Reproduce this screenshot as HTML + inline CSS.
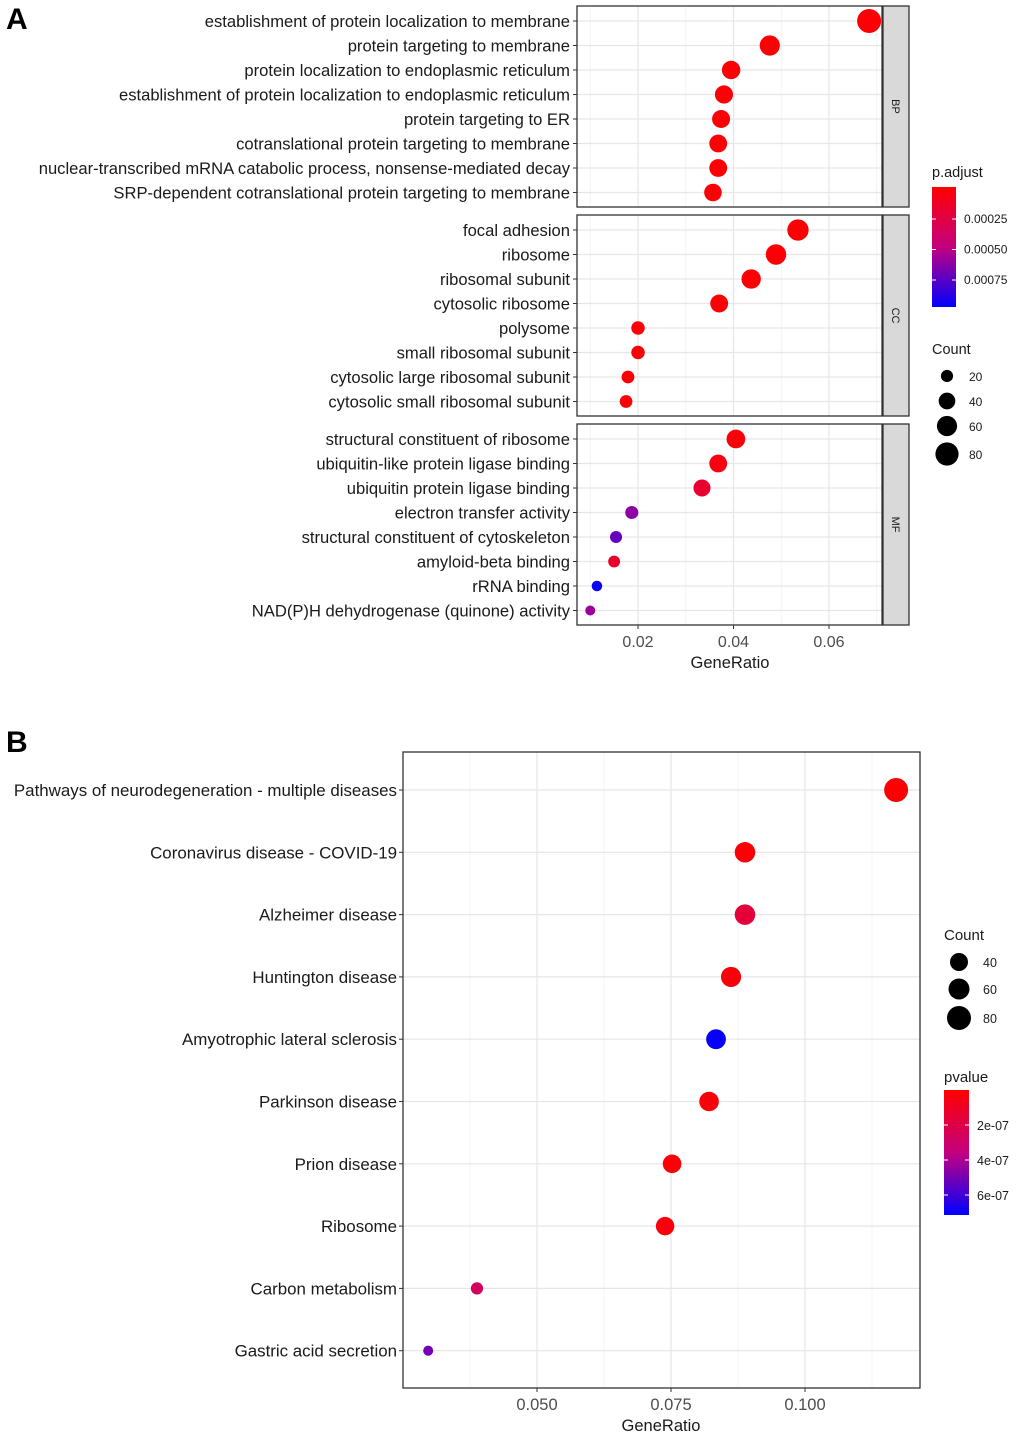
<!DOCTYPE html>
<html><head><meta charset="utf-8"><style>
body{margin:0;background:#fff;}
svg{display:block;font-family:"Liberation Sans",Arial,sans-serif;}
</style></head><body>
<svg id="fig" width="1020" height="1437" viewBox="0 0 1020 1437" xmlns="http://www.w3.org/2000/svg">
<defs>
<linearGradient id="gA" x1="0" y1="0" x2="0" y2="1"><stop offset="0" stop-color="#ff0000"/><stop offset="0.5" stop-color="#c4007f"/><stop offset="1" stop-color="#0000ff"/></linearGradient>
<linearGradient id="gB" x1="0" y1="0" x2="0" y2="1"><stop offset="0" stop-color="#ff0000"/><stop offset="0.5" stop-color="#c4007f"/><stop offset="1" stop-color="#0000ff"/></linearGradient>
</defs>
<text x="6" y="29" font-size="30" font-weight="bold">A</text>
<text x="6" y="752" font-size="30" font-weight="bold">B</text>
<g id="A"></g><g id="B"></g>
</svg>
<script>
// Panel A data
const bpTerms=["establishment of protein localization to membrane","protein targeting to membrane","protein localization to endoplasmic reticulum","establishment of protein localization to endoplasmic reticulum","protein targeting to ER","cotranslational protein targeting to membrane","nuclear-transcribed mRNA catabolic process, nonsense-mediated decay","SRP-dependent cotranslational protein targeting to membrane"];
const bpRatio=[0.0684,0.0476,0.0395,0.0380,0.0374,0.0368,0.0368,0.0357];
const bpP=[0.00001,0.00001,0.00001,0.00001,0.00001,0.00001,0.00001,0.00001];
const ccTerms=["focal adhesion","ribosome","ribosomal subunit","cytosolic ribosome","polysome","small ribosomal subunit","cytosolic large ribosomal subunit","cytosolic small ribosomal subunit"];
const ccRatio=[0.0535,0.0489,0.0437,0.0370,0.0200,0.0200,0.0179,0.0175];
const ccP=[0.00001,0.00001,0.00001,0.00001,0.00001,0.00001,0.00001,0.00001];
const mfTerms=["structural constituent of ribosome","ubiquitin-like protein ligase binding","ubiquitin protein ligase binding","electron transfer activity","structural constituent of cytoskeleton","amyloid-beta binding","rRNA binding","NAD(P)H dehydrogenase (quinone) activity"];
const mfRatio=[0.0405,0.0368,0.0334,0.0187,0.0154,0.0150,0.0114,0.0100];
const mfP=[0.00002,0.00005,0.00018,0.00062,0.00072,0.00016,0.00094,0.00058];
const aTicks=[0.02,0.04,0.06];
const aCountLegend=[20,40,60,80];
const aPLegend=["0.00025","0.00050","0.00075"];
// Panel B data
const bTerms=["Pathways of neurodegeneration - multiple diseases","Coronavirus disease - COVID-19","Alzheimer disease","Huntington disease","Amyotrophic lateral sclerosis","Parkinson disease","Prion disease","Ribosome","Carbon metabolism","Gastric acid secretion"];
const bRatio=[0.117,0.0888,0.0888,0.0862,0.0834,0.0821,0.0752,0.0739,0.0388,0.0297];
const bP=[0.1e-7,0.2e-7,1.6e-7,0.3e-7,7.0e-7,0.3e-7,0.2e-7,0.3e-7,2.6e-7,5.0e-7];
const bTicks=[0.05,0.075,0.1];
const bCountLegend=[40,60,80];
const bPLegend=["2e-07","4e-07","6e-07"];

const NS="http://www.w3.org/2000/svg";
function mk(p,t,a){const e=document.createElementNS(NS,t);for(const k in a)e.setAttribute(k,a[k]);p.appendChild(e);return e;}
function lerp(a,b,t){return Math.round(a+(b-a)*t);}
function col(t){t=Math.max(0,Math.min(1,t));let c;if(t<0.5){const u=t/0.5;c=[lerp(255,196,u),0,lerp(0,127,u)];}else{const u=(t-0.5)/0.5;c=[lerp(196,0,u),0,lerp(127,255,u)];}return `rgb(${c[0]},${c[1]},${c[2]})`;}

// Panel A
const A=document.getElementById('A');
const ax=v=>638+(v-0.02)*4775;
const aRad=c=>Math.sqrt(Math.max(4,4.6+1.62*c));
const aCol=p=>col((p+0.00001)/0.00098);
const facets=[{n:"BP",t:bpTerms,r:bpRatio,p:bpP,y0:6},{n:"CC",t:ccTerms,r:ccRatio,p:ccP,y0:215},{n:"MF",t:mfTerms,r:mfRatio,p:mfP,y0:424}];
facets.forEach(f=>{
  const g=mk(A,'g',{});
  
  
  const h=201, top=f.y0, bot=f.y0+h;
  [0.01,0.03,0.05,0.07].forEach(v=>mk(g,'line',{x1:ax(v),x2:ax(v),y1:top,y2:bot,stroke:'#f2f2f2','stroke-width':0.8}));
  aTicks.forEach(v=>mk(g,'line',{x1:ax(v),x2:ax(v),y1:top,y2:bot,stroke:'#e6e6e6','stroke-width':1.2}));
  const ry=i=>top+15+i*24.5;
  f.t.forEach((t,i)=>{
    mk(g,'line',{x1:577,x2:882,y1:ry(i),y2:ry(i),stroke:'#e6e6e6','stroke-width':1.2});
    mk(g,'line',{x1:573,x2:577,y1:ry(i),y2:ry(i),stroke:'#333','stroke-width':1});
    const tx=mk(g,'text',{x:570,y:ry(i)+6,'font-size':16.6,'text-anchor':'end',fill:'#1a1a1a'});
    tx.textContent=t;
    
    
  });
  f.t.forEach((t,i)=>{
    const c=mk(g,'circle',{cx:ax(f.r[i]),cy:ry(i),r:aRad(f.r[i]*1260),fill:aCol(f.p[i])});
    
    
  });
  mk(g,'rect',{x:577,y:top,width:305,height:h,fill:'none',stroke:'#333','stroke-width':1.3});
  const s=mk(g,'rect',{x:883,y:top,width:26,height:h,fill:'#d9d9d9',stroke:'#333','stroke-width':1.3});
  
  
  const st=mk(g,'text',{x:0,y:0,'font-size':11,'text-anchor':'middle',fill:'#1a1a1a',transform:`translate(892,${top+h/2}) rotate(90)`});
  st.textContent=f.n;
});
aTicks.forEach(v=>{
  mk(A,'line',{x1:ax(v),x2:ax(v),y1:625,y2:629,stroke:'#333'});
  const t=mk(A,'text',{x:ax(v),y:647,'font-size':16,'text-anchor':'middle',fill:'#4d4d4d'});
  t.textContent=v.toFixed(2);
  
  
});
{const t=mk(A,'text',{x:730,y:668,'font-size':16.5,'text-anchor':'middle',fill:'#1a1a1a'});t.textContent='GeneRatio';

}
// A legends
{const t=mk(A,'text',{x:932,y:177,'font-size':14.5,fill:'#1a1a1a'});t.textContent='p.adjust';


const r=mk(A,'rect',{x:932,y:187,width:24,height:120,fill:'url(#gA)'});


aPLegend.forEach((l,i)=>{const y=219+i*30.5;
 mk(A,'line',{x1:932,x2:936,y1:y,y2:y,stroke:'#fff'});mk(A,'line',{x1:952,x2:956,y1:y,y2:y,stroke:'#fff'});
 const tt=mk(A,'text',{x:964,y:y+4,'font-size':12,fill:'#1a1a1a'});tt.textContent=l;
 
 });
const c=mk(A,'text',{x:932,y:354,'font-size':14.5,fill:'#1a1a1a'});c.textContent='Count';


const ys=[376,401,426,454];
aCountLegend.forEach((n,i)=>{const d=mk(A,'circle',{cx:947,cy:ys[i],r:aRad(n),fill:'#000'});
 
 
 const tt=mk(A,'text',{x:969,y:ys[i]+5,'font-size':12,fill:'#1a1a1a'});tt.textContent=n;});
}

// Panel B
const B=document.getElementById('B');
const bx=v=>537+(v-0.05)*5360;
const bRad=c=>Math.sqrt(Math.max(16,-15+1.83*c));
const bCol=p=>col(p/7.1e-7);
const by=i=>790+i*62.3;
[0.0375,0.0625,0.0875,0.1125].forEach(v=>mk(B,'line',{x1:bx(v),x2:bx(v),y1:752,y2:1388,stroke:'#f2f2f2','stroke-width':0.8}));
bTicks.forEach(v=>mk(B,'line',{x1:bx(v),x2:bx(v),y1:752,y2:1388,stroke:'#e6e6e6','stroke-width':1.2}));
bTerms.forEach((t,i)=>{
  mk(B,'line',{x1:403,x2:920,y1:by(i),y2:by(i),stroke:'#e6e6e6','stroke-width':1.2});
  mk(B,'line',{x1:399,x2:403,y1:by(i),y2:by(i),stroke:'#333'});
  const tx=mk(B,'text',{x:397,y:by(i)+6,'font-size':16.9,'text-anchor':'end',fill:'#1a1a1a'});
  tx.textContent=t;
  
  
});
bTerms.forEach((t,i)=>{
  const c=mk(B,'circle',{cx:bx(bRatio[i]),cy:by(i),r:bRad(bRatio[i]*740),fill:bCol(bP[i])});
  
  
});
mk(B,'rect',{x:403,y:752,width:517,height:636,fill:'none',stroke:'#333','stroke-width':1.3});
bTicks.forEach(v=>{
  mk(B,'line',{x1:bx(v),x2:bx(v),y1:1388,y2:1392,stroke:'#333'});
  const t=mk(B,'text',{x:bx(v),y:1410,'font-size':16.5,'text-anchor':'middle',fill:'#4d4d4d'});
  t.textContent=v.toFixed(3);
  
  
});
{const t=mk(B,'text',{x:661,y:1431,'font-size':16.5,'text-anchor':'middle',fill:'#1a1a1a'});t.textContent='GeneRatio';


const c=mk(B,'text',{x:944,y:940,'font-size':15,fill:'#1a1a1a'});c.textContent='Count';


const ys=[962,989,1018];
const lr=[9,10.5,12];
bCountLegend.forEach((n,i)=>{const d=mk(B,'circle',{cx:959,cy:ys[i],r:lr[i],fill:'#000'});
 
 
 const tt=mk(B,'text',{x:983,y:ys[i]+5,'font-size':12.5,fill:'#1a1a1a'});tt.textContent=n;});
const p=mk(B,'text',{x:944,y:1082,'font-size':15,fill:'#1a1a1a'});p.textContent='pvalue';


const r=mk(B,'rect',{x:944,y:1090,width:25,height:125,fill:'url(#gB)'});


bPLegend.forEach((l,i)=>{const y=1125+i*35;
 mk(B,'line',{x1:944,x2:948,y1:y,y2:y,stroke:'#fff'});mk(B,'line',{x1:965,x2:969,y1:y,y2:y,stroke:'#fff'});
 const tt=mk(B,'text',{x:977,y:y+5,'font-size':12.5,fill:'#1a1a1a'});tt.textContent=l;
 
 });
}
</script>
</body></html>
